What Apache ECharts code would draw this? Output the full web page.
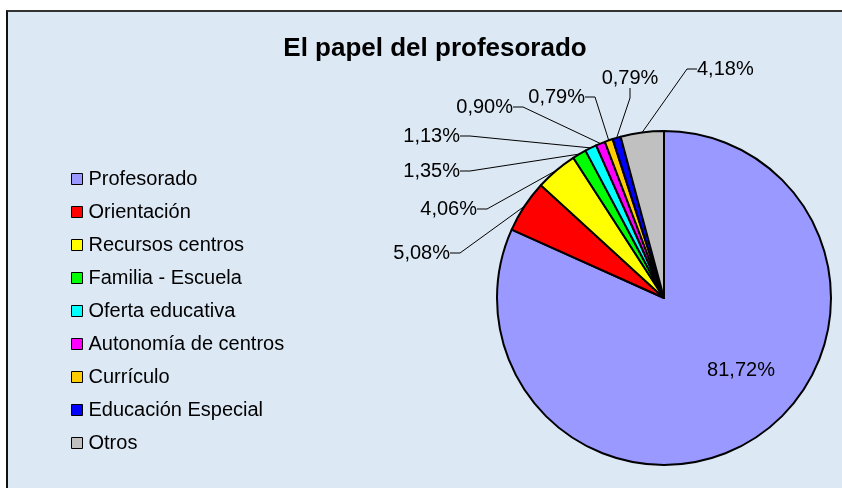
<!DOCTYPE html>
<html>
<head>
<meta charset="utf-8">
<script src="https://cdn.jsdelivr.net/npm/echarts@6/dist/echarts.min.js"></script>
<style>
  html, body { margin: 0; padding: 0; background: #fff; }
  #frame {
    position: absolute; left: 6px; top: 10px; width: 836px; height: 478px;
    border-top: 2px solid #333; border-left: 2px solid #111;
    background: #dce8f4;
  }
  #chart { width: 836px; height: 478px; }
</style>
</head>
<body>
<div id="frame"><div id="chart"></div></div>
<script>
// datos del gráfico
const categorias = ["Profesorado", "Orientación", "Recursos centros", "Familia - Escuela",
  "Oferta educativa", "Autonomía de centros", "Currículo", "Educación Especial", "Otros"];
const porcentajes = [81.72, 5.08, 4.06, 1.35, 1.13, 0.90, 0.79, 0.79, 4.18];
const colores = ["#9999ff", "#ff0000", "#ffff00", "#00ff00", "#00ffff",
  "#ff00ff", "#ffcc00", "#0000ff", "#c0c0c0"];

// dónde va cada etiqueta (como en el original de Excel)
const posEtiquetas = [
  [733, 358, "center"], [442, 241, "right"], [469, 197, "right"], [452, 159, "right"],
  [452, 124, "right"], [505, 95, "right"], [577, 85, "right"], [622, 66, "center"],
  [689, 57, "left"]
];

const chart = echarts.init(document.getElementById("chart"));

const datos = categorias.map((c, i) => ({
  name: c,
  value: porcentajes[i],
  itemStyle: { color: colores[i] },
  label: i === 0 ? { position: "inside" } : undefined,
  labelLine: i === 0 ? { show: false } : undefined
}));

const fmt = v => v.toFixed(2).replace(".", ",") + "%";

chart.setOption({
  animation: false,
  title: {
    text: "El papel del profesorado",
    left: 422, top: 19, textAlign: "center",
    textStyle: { fontFamily: "Liberation Sans", fontSize: 26, fontWeight: "bold", color: "#000" }
  },
  legend: {
    orient: "vertical",
    left: 58, top: 152,
    itemWidth: 11, itemHeight: 11, itemGap: 13,
    icon: "rect",
    itemStyle: { borderColor: "#000", borderWidth: 1 },
    textStyle: { fontFamily: "Liberation Sans", fontSize: 20, color: "#000", padding: [0, 0, 0, 1] },
    data: categorias
  },
  series: [{
    type: "pie",
    center: [656, 286],
    radius: 167,
    startAngle: 90,
    clockwise: true,
    data: datos,
    itemStyle: { borderColor: "#000", borderWidth: 2 },
    label: {
      formatter: p => fmt(p.value),
      fontFamily: "Liberation Sans", fontSize: 20, color: "#000"
    },
    labelLine: { length: 10, length2: 10, lineStyle: { color: "#000", width: 1 } },
    labelLayout: p => {
      const q = posEtiquetas[p.dataIndex];
      return { x: q[0], y: q[1], align: q[2], verticalAlign: "middle" };
    }
  }]
});
</script>
</body>
</html>
